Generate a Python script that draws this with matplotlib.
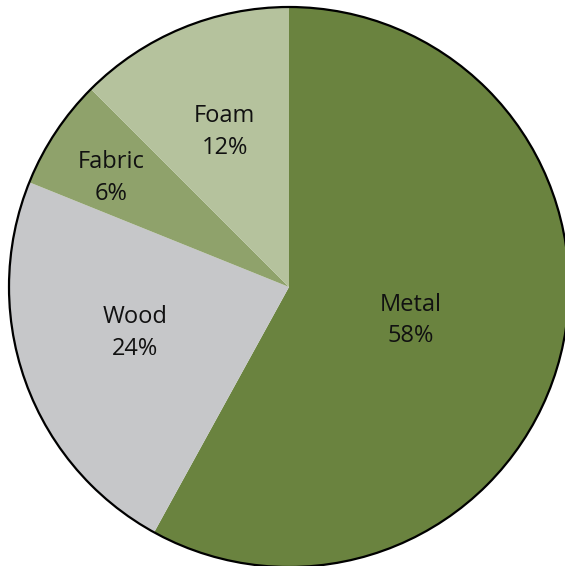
import numpy as np
import matplotlib
matplotlib.use("Agg")
from matplotlib import pyplot as plt
from matplotlib.patches import Circle

# slices clockwise from 12 o'clock
materials = ["Metal", "Wood", "Fabric", "Foam"]
shares = [58.0, 23.1, 6.4, 12.5]
pct_labels = ["58%", "24%", "6%", "12%"]
colors = ["#6a833f", "#c6c7c9", "#8fa26b", "#b5c29d"]

# label placement: fraction of radius and a small angular nudge (deg)
label_dist = [0.45, 0.574, 0.745, 0.60]
label_nudge = [-1.0, -3.0, 2.0, 0.0]

fig = plt.figure(figsize=(5.65, 5.66), dpi=100)
ax = fig.add_axes([0, 0, 1, 1])

r = 280
wedges, _ = ax.pie(shares, colors=colors, startangle=90, counterclock=False,
                   radius=r, center=(0, 0), frame=True,
                   wedgeprops=dict(linewidth=0))

# thin black rim around the whole pie
ax.add_patch(Circle((0, 0), r, fill=False, edgecolor="black", linewidth=1.6))

for w, name, pct, d, nd in zip(wedges, materials, pct_labels, label_dist, label_nudge):
    mid = np.deg2rad((w.theta1 + w.theta2) / 2 + nd)
    x, y = d * r * np.cos(mid), d * r * np.sin(mid)
    ax.text(x, y, f"{name}\n{pct}", ha="center", va="center",
            fontsize=17, family="Open Sans", linespacing=1.42, color="#111111")

# pixel-based limits so the pie sits like the original
ax.set_xlim(-289, 565 - 289)
ax.set_ylim(287 - 566, 287)
ax.set_aspect("equal")
ax.axis("off")

fig.savefig("out.png", dpi=100)
